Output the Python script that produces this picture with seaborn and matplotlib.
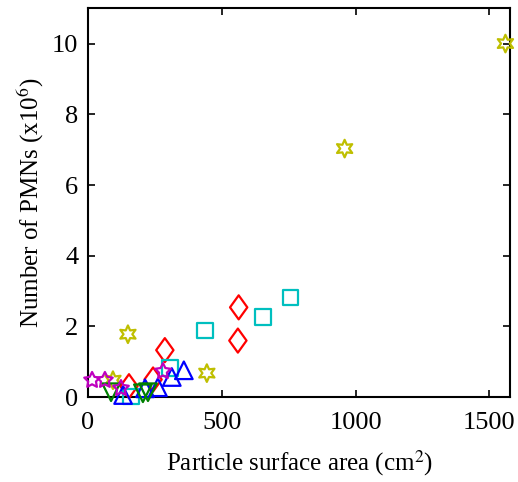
import matplotlib
matplotlib.use("Agg")
import matplotlib.pyplot as plt
import seaborn as sns
import pandas as pd
from matplotlib.path import Path

# ---- data ----
star6_x = [1560, 959, 149, 444, 93]
star6_y = [10.0, 7.03, 1.78, 0.68, 0.48]
diam_x = [563, 560, 287, 243, 153]
diam_y = [2.54, 1.60, 1.33, 0.50, 0.31]
sq_x = [757, 653, 437, 306, 160]
sq_y = [2.82, 2.26, 1.89, 0.82, 0.02]
tri_up_x = [358, 313, 261, 213, 131]
tri_up_y = [0.76, 0.57, 0.28, 0.25, 0.06]
tri_dn_x = [86, 205, 224]
tri_dn_y = [0.14, 0.11, 0.14]
star5_x = [15, 63, 123, 280]
star5_y = [0.48, 0.48, 0.25, 0.73]

groups = ["hex", "diamond", "square", "up", "down", "pent"]
colors = {"hex": (0.75, 0.75, 0.0), "diamond": "red", "square": (0.0, 0.75, 0.75),
          "up": "blue", "down": (0.0, 0.5, 0.0), "pent": (0.75, 0.0, 0.75)}
diamond_path = Path([(0, 1), (0.72, 0), (0, -1), (-0.72, 0), (0, 1)],
                    [Path.MOVETO, Path.LINETO, Path.LINETO, Path.LINETO, Path.CLOSEPOLY])
markers = {"hex": (6, 1, 0), "diamond": diamond_path, "square": "s", "up": "^",
           "down": "v", "pent": (5, 1, 0)}
sizes = {"hex": 160, "diamond": 300, "square": 125, "up": 160, "down": 160, "pent": 140}

xs = [star6_x, diam_x, sq_x, tri_up_x, tri_dn_x, star5_x]
ys = [star6_y, diam_y, sq_y, tri_up_y, tri_dn_y, star5_y]

plt.rcParams["font.family"] = ["Liberation Serif", "DejaVu Serif"]
plt.rcParams["mathtext.fontset"] = "stix"

fig = plt.figure(figsize=(5.18, 4.82), dpi=100)
ax = fig.add_axes([0.170, 0.176, 0.815, 0.807])

for g, x, y in zip(groups, xs, ys):
    df = pd.DataFrame({"x": x, "y": y})
    sns.scatterplot(data=df, x="x", y="y", ax=ax, marker=markers[g], s=sizes[g],
                    color=colors[g], legend=False, clip_on=False, zorder=3)
    coll = ax.collections[-1]
    coll.set_facecolors("none")
    coll.set_edgecolors(colors[g])
    coll.set_linewidths(1.6)

ax.set_xlim(0, 1578)
ax.set_ylim(0, 11)
ax.set_xticks([0, 500, 1000, 1500])
ax.set_yticks([0, 2, 4, 6, 8, 10])
ax.tick_params(direction="in", length=5, width=1.2, labelsize=19,
               top=True, right=True)
ax.tick_params(axis="x", pad=11)
ax.tick_params(axis="y", pad=7)
for s in ax.spines.values():
    s.set_linewidth(1.5)
ax.set_xlabel("Particle surface area (cm$^2$)", fontsize=18, labelpad=10)
ax.set_ylabel("Number of PMNs (x10$^6$)", fontsize=18, labelpad=4)

fig.savefig("out.png", dpi=100)
